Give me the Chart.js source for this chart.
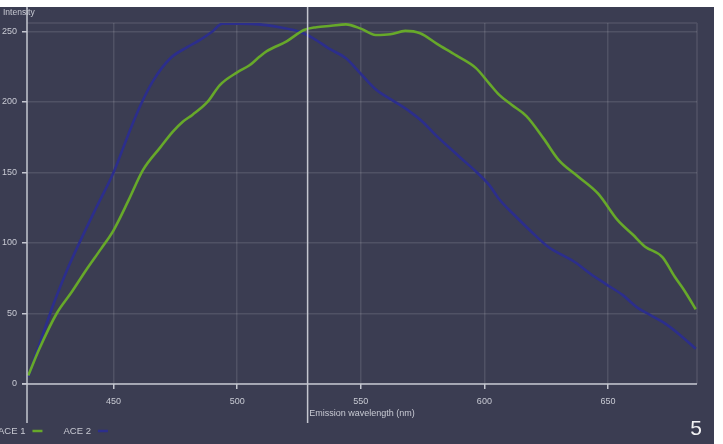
<!DOCTYPE html>
<html><head><meta charset="utf-8">
<script src="https://cdn.jsdelivr.net/npm/chart.js@4/dist/chart.umd.min.js"></script>
<style>
html,body{margin:0;padding:0;background:#fff;width:723px;height:444px;overflow:hidden}
#wrap{position:absolute;left:0;top:7px;width:714px;height:437px;background:#3b3d52}
canvas{display:block}
</style></head><body>
<div id="wrap"><canvas id="c" width="714" height="437"></canvas></div>
<script>
const seriesLabels = ['ACE 1', 'ACE 2'];
const seriesColors = ['#67a92a', '#2c2e8c'];

const ace1Wavelength = [415.5,420,427,433,439,445,450,456,462,469,474,478,482,488,493,500,505,509,512,520,527,532,538,544,550,556,562,568,574,581,588.6,596.6,602,606,611,617,624,630,638,646,654,660,665,672,677,681,685.5];
const ace1Intensity  = [6,25,50,65,81,96,109,130,152,168,179,186,191,200,212,221,226,232,236,243,251,253,254,255,252,247.5,248,250.4,248.7,241,233,224,213,205,198,190,174,159,147,135,116,106,97.4,90,76,66,53];

const ace2Wavelength = [415.5,420,426,431,436.7,443,450,456,461,466,473,480,485,490,494,501,509,517,525,531,537,544,550,556,563,570,575,580,590,597,602,606,612,619,626,632,637,643,649,656,662,667,673,679,685.5];
const ace2Intensity  = [5,28,58,80,102,125,150,177,198,215,231,239,244,250,255.5,255.5,255,253,250,245,238,231,220,209,201,193,186,177,161,150,141,131,120,108,97,91,86,78,71,63,54,49,43,35,25];

const xTicks = [450, 500, 550, 600, 650];
const yTicks = [0, 50, 100, 150, 200, 250];
const xRange = [415, 686];
const yRange = [0, 256];
const cursorWavelength = 528.5;
const xTitle = 'Emission wavelength (nm)';
const yTitle = 'Intensity';
const cornerLabel = '5';

const FONT = "'Liberation Sans', Arial, sans-serif";
const TEXT = '#c8cad3';
const AXIS = '#c4c6d0';
const GRID = 'rgba(255,255,255,0.11)';

function zip(xs, ys){ return xs.map((x,i)=>({x:x, y:ys[i]})); }

const decor = {
  id: 'decor',
  beforeDatasetsDraw(chart){
    const {ctx, chartArea:a} = chart;
    ctx.save();
    ctx.strokeStyle = GRID; ctx.lineWidth = 1.5;
    ctx.beginPath();
    ctx.moveTo(a.left, a.top); ctx.lineTo(a.right, a.top);
    ctx.moveTo(a.right, a.top); ctx.lineTo(a.right, a.bottom);
    ctx.stroke();
    ctx.restore();
  },
  afterDatasetsDraw(chart){
    const {ctx, chartArea:a, scales} = chart;
    const y0 = scales.y.getPixelForValue(0);
    ctx.save();
    ctx.strokeStyle = AXIS; ctx.lineWidth = 1.5;
    ctx.beginPath();
    ctx.moveTo(a.left - 5, y0); ctx.lineTo(a.right, y0);
    ctx.moveTo(a.left, 0); ctx.lineTo(a.left, y0 + 39);
    const cx = scales.x.getPixelForValue(cursorWavelength);
    ctx.moveTo(cx, 0); ctx.lineTo(cx, y0 + 39);
    ctx.stroke();

    ctx.fillStyle = TEXT;
    ctx.font = '8.5px ' + FONT;
    ctx.textAlign = 'left'; ctx.textBaseline = 'middle';
    ctx.fillText(yTitle, 3, 5.5);

    ctx.font = '9.5px ' + FONT;
    const ly = y0 + 47;
    let lx = -2;
    chart.data.datasets.forEach((ds) => {
      ctx.fillStyle = TEXT;
      ctx.textAlign = 'left';
      ctx.fillText(ds.label, lx, ly);
      const w = ctx.measureText(ds.label).width;
      ctx.strokeStyle = ds.borderColor; ctx.lineWidth = 2.5;
      ctx.beginPath();
      ctx.moveTo(lx + w + 7, ly); ctx.lineTo(lx + w + 17, ly);
      ctx.stroke();
      lx += w + 38;
    });

    ctx.fillStyle = '#f2f2f4';
    ctx.font = '21px ' + FONT;
    ctx.textAlign = 'center'; ctx.textBaseline = 'alphabetic';
    ctx.fillText(cornerLabel, 696, 428);
    ctx.restore();
  }
};

new Chart(document.getElementById('c'), {
  type: 'line',
  data: {
    datasets: [
      {label: seriesLabels[0], data: zip(ace1Wavelength, ace1Intensity), borderColor: seriesColors[0], borderWidth: 2.6, pointRadius: 0, tension: 0.4, cubicInterpolationMode: 'monotone', fill: false},
      {label: seriesLabels[1], data: zip(ace2Wavelength, ace2Intensity), borderColor: seriesColors[1], borderWidth: 2.6, pointRadius: 0, tension: 0.4, cubicInterpolationMode: 'monotone', fill: false}
    ]
  },
  options: {
    responsive: false,
    animation: false,
    devicePixelRatio: 1,
    layout: {padding: {top: 16, right: 17, left: 0, bottom: 0}},
    plugins: {legend: {display: false}, tooltip: {enabled: false}},
    scales: {
      x: {
        type: 'linear', min: xRange[0], max: xRange[1],
        afterBuildTicks: s => { s.ticks = xTicks.map(v => ({value: v})); },
        afterFit: s => { s.height = 60; },
        ticks: {color: TEXT, font: {family: FONT, size: 9}, padding: 7, maxRotation: 0, autoSkip: false},
        grid: {color: GRID, lineWidth: 1.5, tickColor: AXIS, tickWidth: 1.5, tickLength: 5},
        border: {display: false},
        title: {display: true, text: xTitle, color: TEXT, font: {family: FONT, size: 9}, padding: {top: 0, bottom: 25}}
      },
      y: {
        type: 'linear', min: yRange[0], max: yRange[1],
        afterBuildTicks: s => { s.ticks = yTicks.map(v => ({value: v})); },
        afterFit: s => { s.width = 27; },
        ticks: {color: TEXT, font: {family: FONT, size: 9}, padding: 5},
        grid: {color: GRID, lineWidth: 1.5, tickColor: AXIS, tickWidth: 1.5, tickLength: 5},
        border: {display: false}
      }
    }
  },
  plugins: [decor]
});
</script>
</body></html>
